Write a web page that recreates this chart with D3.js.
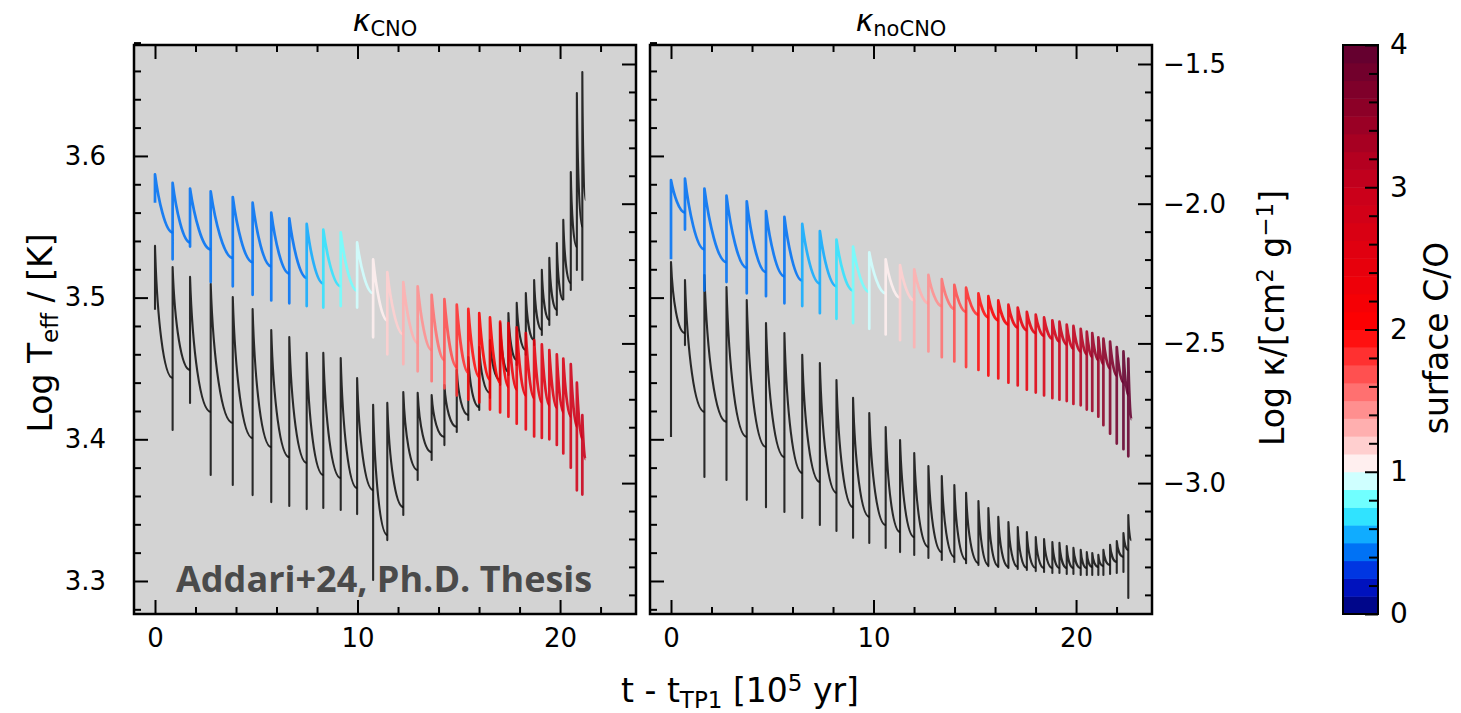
<!DOCTYPE html>
<html>
<head>
<meta charset="utf-8">
<script src="https://cdn.jsdelivr.net/npm/d3@7"></script>
<style>
  body { margin: 0; background: #ffffff; }
  text { font-family: "DejaVu Sans", sans-serif; fill: #000; }
</style>
</head>
<body>
<svg id="fig" width="1461" height="713"></svg>
<script>
// ---- thermal-pulse tracks, kappa_CNO model ----
const cnoTime = [0, 0.87, 1.73, 2.75, 3.84, 4.82, 5.74, 6.63, 7.49, 8.31, 9.17, 9.98, 10.77, 11.47, 12.26, 12.97, 13.66, 14.29, 14.90, 15.47, 16.01, 16.54, 17.04, 17.45, 17.86, 18.31, 18.72, 19.10, 19.47, 19.84, 20.16, 20.53, 20.83, 21.10];
const cnoTeffPeak = [3.587, 3.581, 3.577, 3.575, 3.571, 3.567, 3.560, 3.556, 3.552, 3.548, 3.546, 3.539, 3.527, 3.518, 3.511, 3.508, 3.502, 3.499, 3.495, 3.492, 3.489, 3.486, 3.483, 3.482, 3.479, 3.475, 3.470, 3.467, 3.463, 3.460, 3.457, 3.453, 3.440, 3.417];
const cnoTeffLow = [3.567, 3.527, 3.536, 3.511, 3.508, 3.502, 3.498, 3.496, 3.494, 3.493, 3.494, 3.493, 3.472, 3.460, 3.453, 3.448, 3.441, 3.436, 3.431, 3.428, 3.426, 3.421, 3.419, 3.416, 3.411, 3.407, 3.402, 3.401, 3.400, 3.396, 3.390, 3.380, 3.364, 3.361];
const cnoTeffEnd = [3.546, 3.539, 3.534, 3.528, 3.525, 3.522, 3.517, 3.514, 3.510, 3.508, 3.505, 3.503, 3.484, 3.474, 3.468, 3.463, 3.456, 3.451, 3.447, 3.444, 3.442, 3.440, 3.437, 3.435, 3.431, 3.429, 3.426, 3.424, 3.422, 3.419, 3.416, 3.409, 3.400, 3.386];
const cnoKapPeak = [-2.151, -2.227, -2.262, -2.287, -2.334, -2.377, -2.452, -2.477, -2.534, -2.534, -2.552, -2.624, -2.720, -2.713, -2.674, -2.677, -2.685, -2.649, -2.595, -2.549, -2.513, -2.488, -2.427, -2.391, -2.355, -2.320, -2.273, -2.237, -2.194, -2.141, -2.058, -1.887, -1.604, -1.529];
const cnoKapLow = [-2.380, -2.810, -2.713, -2.971, -3.007, -3.043, -3.068, -3.082, -3.093, -3.089, -3.096, -3.111, -3.347, -3.204, -3.114, -2.989, -2.917, -2.864, -2.817, -2.774, -2.738, -2.695, -2.649, -2.613, -2.577, -2.541, -2.506, -2.470, -2.434, -2.398, -2.345, -2.309, -2.237, -2.273];
const cnoKapEnd = [-2.624, -2.595, -2.745, -2.785, -2.839, -2.871, -2.907, -2.928, -2.971, -2.982, -3.018, -3.025, -3.186, -3.086, -2.953, -2.889, -2.835, -2.799, -2.756, -2.728, -2.677, -2.631, -2.602, -2.559, -2.524, -2.488, -2.452, -2.416, -2.380, -2.345, -2.284, -2.155, -2.083, -1.987];
const cnoCO = [0.40, 0.40, 0.40, 0.41, 0.42, 0.43, 0.45, 0.48, 0.58, 0.70, 0.82, 0.95, 1.08, 1.20, 1.32, 1.45, 1.57, 1.70, 1.82, 1.95, 2.05, 2.12, 2.20, 2.28, 2.35, 2.42, 2.48, 2.55, 2.60, 2.66, 2.72, 2.78, 2.84, 2.90];

// ---- thermal-pulse tracks, kappa_noCNO model ----
const nocnoTime = [0, 0.69, 1.65, 2.74, 3.74, 4.69, 5.60, 6.48, 7.35, 8.17, 8.99, 9.79, 10.60, 11.31, 12.01, 12.71, 13.37, 13.99, 14.57, 15.18, 15.67, 16.16, 16.66, 17.12, 17.57, 18.01, 18.42, 18.83, 19.18, 19.54, 19.87, 20.23, 20.53, 20.80, 21.10, 21.35, 21.68, 22.01, 22.34, 22.58];
const nocnoTeffPeak = [3.583, 3.584, 3.577, 3.572, 3.568, 3.561, 3.557, 3.552, 3.547, 3.541, 3.536, 3.532, 3.527, 3.523, 3.520, 3.516, 3.513, 3.509, 3.507, 3.503, 3.501, 3.498, 3.495, 3.493, 3.490, 3.488, 3.486, 3.484, 3.483, 3.481, 3.480, 3.478, 3.476, 3.475, 3.472, 3.471, 3.469, 3.465, 3.462, 3.457];
const nocnoTeffLow = [3.527, 3.548, 3.505, 3.511, 3.503, 3.501, 3.496, 3.494, 3.489, 3.485, 3.482, 3.478, 3.474, 3.470, 3.465, 3.462, 3.458, 3.455, 3.451, 3.449, 3.445, 3.443, 3.440, 3.438, 3.435, 3.433, 3.431, 3.429, 3.428, 3.427, 3.425, 3.424, 3.421, 3.420, 3.416, 3.410, 3.404, 3.397, 3.393, 3.388];
const nocnoTeffEnd = [3.560, 3.534, 3.525, 3.521, 3.518, 3.515, 3.512, 3.510, 3.508, 3.505, 3.504, 3.503, 3.500, 3.498, 3.496, 3.494, 3.492, 3.490, 3.488, 3.486, 3.484, 3.481, 3.479, 3.477, 3.475, 3.473, 3.471, 3.469, 3.467, 3.464, 3.462, 3.460, 3.458, 3.456, 3.453, 3.450, 3.445, 3.440, 3.431, 3.414];
const nocnoKapPeak = [-2.209, -2.273, -2.255, -2.298, -2.345, -2.427, -2.463, -2.541, -2.570, -2.631, -2.695, -2.749, -2.799, -2.846, -2.892, -2.939, -2.975, -3.007, -3.035, -3.064, -3.089, -3.121, -3.139, -3.157, -3.175, -3.193, -3.200, -3.211, -3.214, -3.225, -3.232, -3.239, -3.247, -3.250, -3.257, -3.239, -3.221, -3.207, -3.179, -3.114];
const nocnoKapLow = [-2.835, -2.506, -2.978, -2.989, -3.060, -3.086, -3.103, -3.125, -3.150, -3.171, -3.196, -3.214, -3.232, -3.247, -3.257, -3.268, -3.275, -3.282, -3.287, -3.293, -3.297, -3.300, -3.304, -3.307, -3.311, -3.315, -3.318, -3.322, -3.322, -3.325, -3.325, -3.329, -3.329, -3.329, -3.329, -3.329, -3.325, -3.322, -3.318, -3.411];
const nocnoKapEnd = [-2.463, -2.745, -2.781, -2.835, -2.871, -2.907, -2.964, -2.996, -3.035, -3.086, -3.121, -3.150, -3.175, -3.193, -3.229, -3.247, -3.264, -3.275, -3.286, -3.293, -3.297, -3.300, -3.300, -3.304, -3.304, -3.304, -3.304, -3.304, -3.304, -3.304, -3.304, -3.304, -3.300, -3.300, -3.297, -3.293, -3.282, -3.264, -3.239, -3.204];
const nocnoCO = [0.40, 0.40, 0.40, 0.41, 0.42, 0.43, 0.45, 0.52, 0.62, 0.74, 0.86, 0.97, 1.08, 1.20, 1.32, 1.45, 1.57, 1.70, 1.82, 1.95, 2.08, 2.18, 2.28, 2.38, 2.48, 2.58, 2.68, 2.78, 2.88, 2.98, 3.08, 3.18, 3.28, 3.38, 3.48, 3.58, 3.68, 3.78, 3.88, 3.96];

// ---- axis ticks ----
const timeTicks = [0, 10, 20];
const teffTicks = [3.3, 3.4, 3.5, 3.6];
const kapTicks = [-3.0, -2.5, -2.0, -1.5];
const coTicks = [0, 1, 2, 3, 4];

// ---- colour map for surface C/O: blue -> white at C/O = 1 -> red -> maroon ----
const coStops = [0, 0.25, 0.5, 0.75, 1, 2, 3, 4];
const coColors = ["#000070", "#0018d8", "#0090ff", "#40ffff", "#ffffff", "#ff0000", "#c8001c", "#5e0030"];
const coStep = 0.125;
const coLinear = d3.scaleLinear().domain(coStops).range(coColors).interpolate(d3.interpolateRgb).clamp(true);
const coColor = v => {
  const k = Math.min(Math.floor(v / coStep), 4 / coStep - 1);
  return coLinear((k + 0.5) * coStep);
};

const svg = d3.select("#fig");
const yTop = 45, yBot = 614;
const tickFont = 26;

const panels = [
  { x0: 134, x1: 636, title: "CNO", time: cnoTime, tp: cnoTeffPeak, tl: cnoTeffLow, te: cnoTeffEnd,
    kp: cnoKapPeak, kl: cnoKapLow, ke: cnoKapEnd, co: cnoCO, leftLabels: true, rightLabels: false },
  { x0: 650, x1: 1152, title: "noCNO", time: nocnoTime, tp: nocnoTeffPeak, tl: nocnoTeffLow, te: nocnoTeffEnd,
    kp: nocnoKapPeak, kl: nocnoKapLow, ke: nocnoKapEnd, co: nocnoCO, leftLabels: false, rightLabels: true }
];

function styleAxis(g) {
  g.select(".domain").remove();
  g.selectAll(".tick line").attr("stroke", "#000").attr("stroke-width", 2);
  g.selectAll(".tick text").attr("font-size", tickFont).attr("font-family", "DejaVu Sans");
}

// one pulse: vertical excursion, then relaxation toward the pre-next-pulse value
function pulseSegment(x, y, time, peak, low, end, i, a, f, b) {
  const p = d3.path();
  const t0 = time[i];
  const t1 = i < time.length - 1 ? time[i + 1] : time[i] + 0.15;
  const start = i === 0 ? low[i] : end[i - 1];
  const X0 = x(t0), X1 = x(t1), dx = X1 - X0;
  const YP = y(peak[i]), YE = y(end[i]);
  p.moveTo(X0, y(start));
  p.lineTo(X0, y(low[i]));
  p.lineTo(X0, YP);
  p.bezierCurveTo(X0 + a * dx, YP + f * (YE - YP), X0 + b * dx, YE, X1, YE);
  return p.toString();
}

panels.forEach((P, pi) => {
  const x = d3.scaleLinear().domain([-1.037, 23.75]).range([P.x0, P.x1]);
  const yT = d3.scaleLinear().domain([3.2767, 3.6783]).range([yBot, yTop]);
  const yK = d3.scaleLinear().domain([-3.4685, -1.432]).range([yBot, yTop]);

  svg.append("rect").attr("x", P.x0).attr("y", yTop).attr("width", P.x1 - P.x0).attr("height", yBot - yTop)
    .attr("fill", "#d3d3d3");

  const clipId = "clip" + pi;
  svg.append("clipPath").attr("id", clipId).append("rect")
    .attr("x", P.x0).attr("y", yTop).attr("width", P.x1 - P.x0).attr("height", yBot - yTop);
  const plot = svg.append("g").attr("clip-path", `url(#${clipId})`);

  // opacity track (right axis)
  plot.append("g").selectAll("path").data(P.time).join("path")
    .attr("d", (d, i) => pulseSegment(x, yK, P.time, P.kp, P.kl, P.ke, i, 0.12, 0.55, 0.5))
    .attr("fill", "none").attr("stroke", "#0a0a0a").attr("stroke-width", 2.1)
    .attr("stroke-opacity", 0.85).attr("stroke-linejoin", "round");

  // effective temperature track, coloured by surface C/O (left axis)
  plot.append("g").selectAll("path").data(P.time).join("path")
    .attr("d", (d, i) => pulseSegment(x, yT, P.time, P.tp, P.tl, P.te, i, 0.2, 0.45, 0.6))
    .attr("fill", "none").attr("stroke", (d, i) => coColor(P.co[i])).attr("stroke-width", 2.7)
    .attr("stroke-opacity", 0.88).attr("stroke-linejoin", "round");

  // axes with inward ticks
  const xMinor = d3.range(0, 24, 2).filter(v => v % 10 !== 0);
  const tMinor = d3.range(3.28, 3.68, 0.02).filter(v => Math.abs(v * 10 - Math.round(v * 10)) > 1e-6);
  const kMinor = d3.range(-3.4, -1.43, 0.1).filter(v => Math.abs(v * 2 - Math.round(v * 2)) > 1e-6);

  [[d3.axisBottom, yBot], [d3.axisTop, yTop]].forEach(([ax, ty], k) => {
    svg.append("g").attr("transform", `translate(0,${ty})`)
      .call(ax(x).tickValues(timeTicks).tickSize(-14).tickPadding(15)
        .tickFormat(k === 0 ? d3.format("d") : () => ""))
      .call(styleAxis);
    svg.append("g").attr("transform", `translate(0,${ty})`)
      .call(ax(x).tickValues(xMinor).tickSize(-7).tickFormat(() => ""))
      .call(styleAxis);
  });

  svg.append("g").attr("transform", `translate(${P.x0},0)`)
    .call(d3.axisLeft(yT).tickValues(teffTicks).tickSize(-14).tickPadding(28)
      .tickFormat(P.leftLabels ? d3.format(".1f") : () => ""))
    .call(styleAxis);
  svg.append("g").attr("transform", `translate(${P.x0},0)`)
    .call(d3.axisLeft(yT).tickValues(tMinor).tickSize(-7).tickFormat(() => ""))
    .call(styleAxis);

  svg.append("g").attr("transform", `translate(${P.x1},0)`)
    .call(d3.axisRight(yK).tickValues(kapTicks).tickSize(-14).tickPadding(11)
      .tickFormat(P.rightLabels ? d3.format(".1f") : () => ""))
    .call(styleAxis);
  svg.append("g").attr("transform", `translate(${P.x1},0)`)
    .call(d3.axisRight(yK).tickValues(kMinor).tickSize(-7).tickFormat(() => ""))
    .call(styleAxis);

  svg.append("rect").attr("x", P.x0).attr("y", yTop).attr("width", P.x1 - P.x0).attr("height", yBot - yTop)
    .attr("fill", "none").attr("stroke", "#000").attr("stroke-width", 2.5);

  // panel title: kappa with subscript
  const title = svg.append("text").attr("x", (P.x0 + P.x1) / 2).attr("y", 31)
    .attr("text-anchor", "middle").attr("font-size", 30);
  title.append("tspan").attr("font-style", "italic").text("κ");
  title.append("tspan").attr("font-size", 21).attr("dy", 5).text(P.title);
});

// watermark
svg.append("text").attr("x", 176).attr("y", 592)
  .attr("font-weight", 700).attr("font-size", 36)
  .style("fill", "#4a4a4a").style("font-family", "'Open Sans', sans-serif")
  .text("Addari+24, Ph.D. Thesis");

// axis titles
const labelFont = 33, subFont = 23;
const yl = svg.append("text").attr("transform", "translate(52,333) rotate(-90)")
  .attr("text-anchor", "middle").attr("font-size", labelFont);
yl.append("tspan").text("Log T");
yl.append("tspan").attr("font-size", subFont).attr("dy", 6).text("eff");
yl.append("tspan").attr("dy", -6).text(" / [K]");

const yr = svg.append("text").attr("transform", "translate(1284,318) rotate(-90)")
  .attr("text-anchor", "middle").attr("font-size", labelFont);
yr.append("tspan").text("Log κ/[cm");
yr.append("tspan").attr("font-size", subFont).attr("dy", -11).text("2");
yr.append("tspan").attr("dy", 11).text(" g");
yr.append("tspan").attr("font-size", subFont).attr("dy", -11).text("−1");
yr.append("tspan").attr("dy", 11).text("]");

const xl = svg.append("text").attr("x", 740).attr("y", 702)
  .attr("text-anchor", "middle").attr("font-size", labelFont);
xl.append("tspan").text("t - t");
xl.append("tspan").attr("font-size", subFont).attr("dy", 6).text("TP1");
xl.append("tspan").attr("dy", -6).text(" [10");
xl.append("tspan").attr("font-size", subFont).attr("dy", -11).text("5");
xl.append("tspan").attr("dy", 11).text(" yr]");

// colour bar
const cbX = 1343, cbW = 35;
const cbY = d3.scaleLinear().domain([0, 4]).range([yBot, yTop]);
const bands = d3.range(0, 4, coStep);
svg.append("g").selectAll("rect").data(bands).join("rect")
  .attr("x", cbX).attr("width", cbW)
  .attr("y", d => cbY(d + coStep)).attr("height", d => cbY(d) - cbY(d + coStep) + 0.5)
  .attr("fill", d => coColor(d + coStep / 2));
svg.append("g").attr("transform", `translate(${cbX + cbW},0)`)
  .call(d3.axisRight(cbY).tickValues(coTicks).tickSize(-13).tickPadding(12).tickFormat(d3.format("d")))
  .call(styleAxis)
  .call(g => g.selectAll(".tick text").attr("font-size", 28));
svg.append("g").attr("transform", `translate(${cbX + cbW},0)`)
  .call(d3.axisRight(cbY).tickValues(d3.range(0.2, 4, 0.2).filter(v => Math.abs(v - Math.round(v)) > 1e-6))
    .tickSize(-9).tickFormat(() => ""))
  .call(styleAxis);
svg.append("rect").attr("x", cbX).attr("y", yTop).attr("width", cbW).attr("height", yBot - yTop)
  .attr("fill", "none").attr("stroke", "#000").attr("stroke-width", 2);

svg.append("text").attr("transform", "translate(1448,338) rotate(-90)")
  .attr("text-anchor", "middle").attr("font-size", labelFont).text("surface C/O");
</script>
</body>
</html>
